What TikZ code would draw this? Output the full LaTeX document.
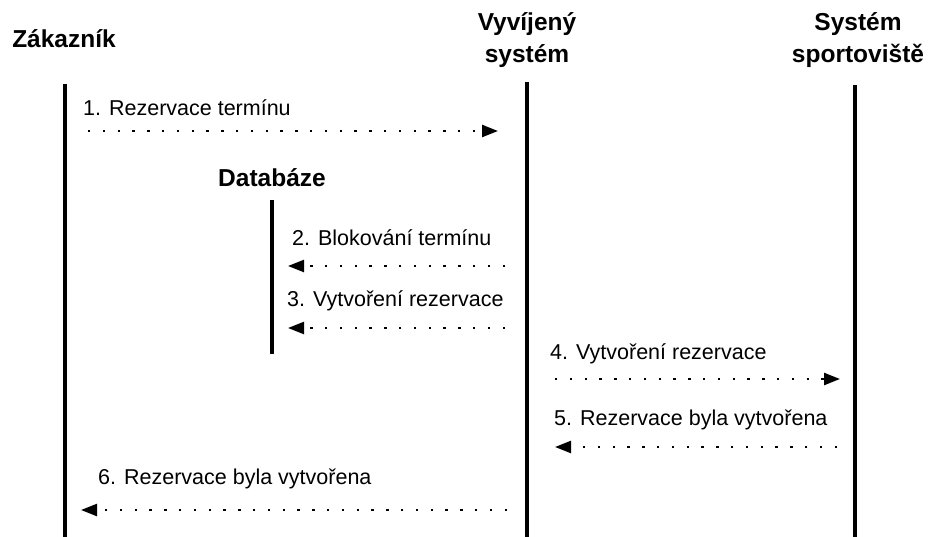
\documentclass[tikz,border=0pt]{standalone}
\usepackage{fontspec}
\setmainfont{Liberation Sans}
\usetikzlibrary{arrows.meta}
\begin{document}
\begin{tikzpicture}[x=1pt,y=-1pt,
  lifeline/.style={line width=3.5pt},
  header/.style={font=\fontsize{24.5}{32}\selectfont\bfseries, align=center, inner sep=0pt},
  msglabel/.style={font=\fontsize{21.5}{24}\selectfont, anchor=base west, inner sep=0pt},
  msg/.style={line width=2.4pt, dash pattern=on 2.4pt off 12.4pt,
    -{Triangle[length=16pt,width=12pt]}},
]
\useasboundingbox (0,0) rectangle (928,537);

% participants (multi-line headers are anchored at the baseline of their last line)
\node[header, anchor=base] (hC) at (64,48) {Zákazník};
\node[header, anchor=base] (hV) at (527,63) {Vyvíjený\\systém};
\node[header, anchor=base] (hS) at (858,63) {Systém\\sportoviště};
\node[header, anchor=base] (hD) at (272,187) {Databáze};

% lifelines
\coordinate (cT) at (65,84);  \coordinate (cB) at (65,537);
\coordinate (vT) at (527,82); \coordinate (vB) at (527,537);
\coordinate (sT) at (855,85); \coordinate (sB) at (855,537);
\coordinate (dT) at (272,200); \coordinate (dB) at (272,354);
\draw[lifeline] (cT) -- (cB);
\draw[lifeline] (vT) -- (vB);
\draw[lifeline] (sT) -- (sB);
\draw[lifeline] (dT) -- (dB);

% messages
\node[msglabel] (l1) at (83,116) {1. Rezervace termínu};
\coordinate (a1s) at (88,131);  \coordinate (a1e) at (498,131);
\draw[msg] (a1s) -- (a1e);

\node[msglabel] (l2) at (292,245) {2. Blokování termínu};
\coordinate (a2s) at (505,266); \coordinate (a2e) at (288,266);
\draw[msg] (a2s) -- (a2e);

\node[msglabel] (l3) at (287,306) {3. Vytvoření rezervace};
\coordinate (a3s) at (505,328); \coordinate (a3e) at (288,328);
\draw[msg] (a3s) -- (a3e);

\node[msglabel] (l4) at (550,359) {4. Vytvoření rezervace};
\coordinate (a4s) at (555,379); \coordinate (a4e) at (840,379);
\draw[msg] (a4s) -- (a4e);

\node[msglabel] (l5) at (554,425) {5. Rezervace byla vytvořena};
\coordinate (a5s) at (837,447); \coordinate (a5e) at (555,447);
\draw[msg] (a5s) -- (a5e);

\node[msglabel] (l6) at (98,484) {6. Rezervace byla vytvořena};
\coordinate (a6s) at (507,510); \coordinate (a6e) at (81,510);
\draw[msg] (a6s) -- (a6e);
\end{tikzpicture}
\end{document}
